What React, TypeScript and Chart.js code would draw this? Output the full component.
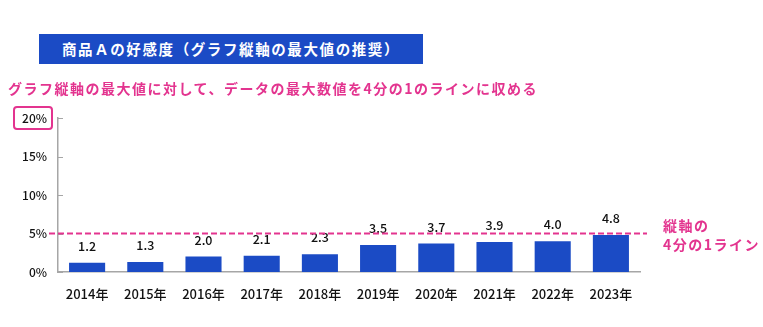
import React, { useEffect, useRef } from "react";
import { Chart, registerables } from "chart.js";

Chart.register(...registerables);

const categories = ["2014年", "2015年", "2016年", "2017年", "2018年", "2019年", "2020年", "2021年", "2022年", "2023年"];
const values = [1.2, 1.3, 2.0, 2.1, 2.3, 3.5, 3.7, 3.9, 4.0, 4.8];
const yTicks = [0, 5, 10, 15, 20];
const quarterLine = 5;

const FONT = "'Noto Sans CJK JP', 'Noto Sans', sans-serif";
const BLUE = "#1b4bc5";
const PINK = "#e3348f";

const extras = {
  id: "extras",
  beforeDatasetsDraw(chart: any) {
    const { ctx, chartArea, scales } = chart;
    const y = scales.y;
    ctx.save();
    ctx.strokeStyle = "#a6a6a6";
    ctx.lineWidth = 1;
    yTicks.forEach((t) => {
      const py = Math.round(y.getPixelForValue(t)) + 0.5;
      ctx.beginPath();
      ctx.moveTo(chartArea.left, py);
      ctx.lineTo(chartArea.left + 5, py);
      ctx.stroke();
    });
    ctx.restore();
  },
  afterDatasetsDraw(chart: any) {
    const { ctx, chartArea, scales } = chart;
    const meta = chart.getDatasetMeta(0);
    ctx.save();
    ctx.fillStyle = "#111";
    ctx.font = `500 12.5px ${FONT}`;
    ctx.textAlign = "center";
    ctx.textBaseline = "alphabetic";
    meta.data.forEach((bar: any, i: number) => {
      ctx.fillText(values[i].toFixed(1), bar.x, bar.y - 12);
    });
    const py = scales.y.getPixelForValue(quarterLine);
    ctx.strokeStyle = PINK;
    ctx.lineWidth = 2;
    ctx.setLineDash([6, 3]);
    ctx.beginPath();
    ctx.moveTo(chartArea.left - 9, py);
    ctx.lineTo(chartArea.right + 7, py);
    ctx.stroke();
    ctx.restore();
  },
};

export default function App() {
  const ref = useRef<HTMLCanvasElement | null>(null);
  useEffect(() => {
    if (!ref.current) return;
    const chart = new Chart(ref.current, {
      type: "bar",
      data: {
        labels: categories,
        datasets: [
          {
            data: values,
            backgroundColor: BLUE,
            barPercentage: 0.62,
            categoryPercentage: 1,
          },
        ],
      },
      options: {
        animation: false,
        responsive: false,
        maintainAspectRatio: false,
        layout: { padding: { left: 0, right: 123, top: 118, bottom: 0 } },
        plugins: { legend: { display: false }, tooltip: { enabled: false }, title: { display: false } },
        scales: {
          x: {
            grid: { display: false, drawTicks: false },
            border: { display: true, color: "#a6a6a6", width: 1.5 },
            ticks: { color: "#111", font: { family: FONT, size: 13, weight: "500" as any }, padding: 14 },
            afterFit: (s: any) => { s.height = 55; },
          },
          y: {
            min: 0,
            max: 20,
            afterBuildTicks: (s: any) => { s.ticks = yTicks.map((v) => ({ value: v })); },
            grid: { display: false, drawTicks: false },
            border: { display: true, color: "#a6a6a6", width: 1.5 },
            ticks: {
              color: "#111",
              font: { family: FONT, size: 12, weight: "500" as any },
              padding: 11,
              callback: (v: any) => `${v}%`,
            },
            afterFit: (s: any) => { s.width = 58; },
          },
        },
      },
      plugins: [extras],
    });
    return () => chart.destroy();
  }, []);

  const txt: React.CSSProperties = {
    position: "absolute",
    fontFamily: FONT,
    fontWeight: 700,
    fontSize: 14,
    letterSpacing: 1.5,
    whiteSpace: "nowrap",
    lineHeight: "18px",
  };

  return (
    <div style={{ position: "fixed", left: 0, top: 0, width: 763, height: 327, background: "#fff" }}>
      <canvas ref={ref} width={763} height={327} style={{ position: "absolute", left: 0, top: 0, width: 763, height: 327 }} />
      <div
        style={{
          ...txt,
          left: 39,
          top: 34,
          width: 384,
          height: 30,
          lineHeight: "30px",
          background: BLUE,
          color: "#fff",
          textAlign: "center",
          fontSize: 14.5,
          letterSpacing: 1.6,
        }}
      >
        商品Ａの好感度（グラフ縦軸の最大値の推奨）
      </div>
      <div style={{ ...txt, left: 8, top: 79, color: PINK }}>
        グラフ縦軸の最大値に対して、データの最大数値を4分の1のラインに収める
      </div>
      <div
        style={{
          position: "absolute",
          left: 13,
          top: 106,
          width: 40,
          height: 24,
          boxSizing: "border-box",
          border: `2px solid ${PINK}`,
          borderRadius: 4,
        }}
      />
      <div style={{ ...txt, left: 663, top: 216, color: PINK }}>縦軸の</div>
      <div style={{ ...txt, left: 663, top: 235, color: PINK }}>4分の1ライン</div>
    </div>
  );
}
